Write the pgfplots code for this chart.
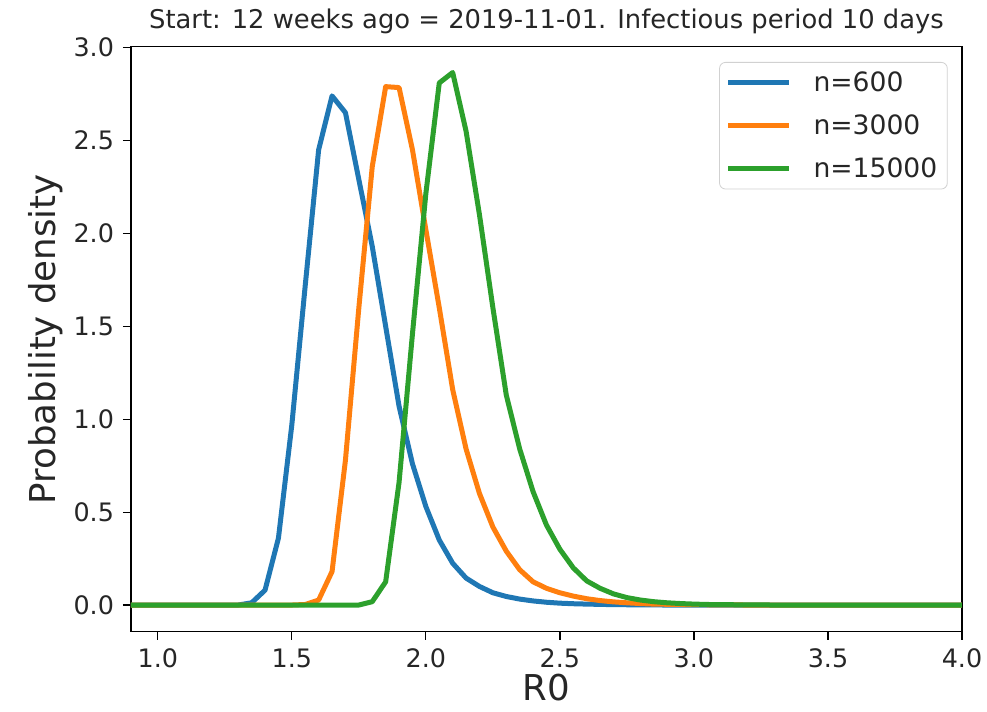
\documentclass[border=0pt]{standalone}
\usepackage{fontspec}
\setmainfont{DejaVu Sans}
\usepackage{pgfplots}
\usepackage{pgfplotstable}
\pgfplotsset{compat=1.18}
\definecolor{tabblue}{HTML}{1F77B4}
\definecolor{taborange}{HTML}{FF7F0E}
\definecolor{tabgreen}{HTML}{2CA02C}
\definecolor{txt}{HTML}{262626}

\pgfplotstableread{
x y
0.90 0
1.30 0
1.35 0.012
1.40 0.08
1.45 0.36
1.50 0.97
1.55 1.72
1.60 2.45
1.65 2.74
1.70 2.65
1.75 2.29
1.80 1.93
1.85 1.50
1.90 1.07
1.95 0.76
2.00 0.53
2.05 0.35
2.10 0.225
2.15 0.145
2.20 0.10
2.25 0.066
2.30 0.046
2.35 0.032
2.40 0.022
2.45 0.015
2.50 0.010
2.55 0.007
2.60 0.005
2.70 0.002
2.80 0.001
2.90 0
4.00 0
}\blue

\pgfplotstableread{
x y
0.90 0
1.50 0
1.55 0.003
1.60 0.027
1.65 0.18
1.70 0.78
1.75 1.60
1.80 2.36
1.85 2.79
1.90 2.785
1.95 2.45
2.00 2.02
2.05 1.60
2.10 1.16
2.15 0.84
2.20 0.60
2.25 0.42
2.30 0.29
2.35 0.19
2.40 0.125
2.45 0.09
2.50 0.066
2.55 0.048
2.60 0.034
2.65 0.024
2.70 0.017
2.75 0.012
2.80 0.008
2.85 0.005
2.90 0.004
3.00 0.002
3.10 0.001
3.20 0
4.00 0
}\orange

\pgfplotstableread{
x y
0.90 0
1.75 0
1.80 0.018
1.85 0.125
1.90 0.66
1.95 1.46
2.00 2.215
2.05 2.81
2.10 2.866
2.15 2.55
2.20 2.10
2.25 1.60
2.30 1.13
2.35 0.84
2.40 0.61
2.45 0.43
2.50 0.30
2.55 0.20
2.60 0.13
2.65 0.09
2.70 0.06
2.75 0.04
2.80 0.027
2.85 0.018
2.90 0.012
2.95 0.008
3.00 0.005
3.05 0.003
3.10 0.002
3.20 0.001
3.30 0
4.00 0
}\green

\begin{document}
\begin{tikzpicture}
\path[use as bounding box] (-65.5pt,-40.15pt) rectangle (428pt,315.85pt);
\begin{axis}[
  at={(0,0)}, anchor=south west,
  scale only axis, width=415.5pt, height=292.5pt,
  xmin=0.9, xmax=4.0, ymin=-0.1435, ymax=3.005,
  xtick={1,1.5,2,2.5,3,3.5,4},
  ytick={0,0.5,1,1.5,2,2.5,3},
  xticklabels={1.0,1.5,2.0,2.5,3.0,3.5,4.0},
  yticklabels={0.0,0.5,1.0,1.5,2.0,2.5,3.0},
  tick align=outside, xtick pos=bottom, ytick pos=left,
  major tick length=4pt,
  every tick/.style={black, line width=0.6pt},
  axis line style={line width=0.6pt},
  tick label style={font=\fontsize{12.7}{15}\selectfont, text=txt},
  xticklabel style={yshift=-1pt},
  yticklabel style={xshift=-1pt},
  title={Start: 12 weeks ago = 2019-11-01. Infectious period 10 days},
  title style={at={(axis description cs:0.5,1.0114)}, anchor=base, font=\fontsize{12.9}{15}\selectfont, text=txt},
  xlabel={R0},
  xlabel style={at={(axis description cs:0.5,-0.0963)}, anchor=center, font=\fontsize{17.8}{21}\selectfont, text=txt},
  ylabel={Probability density},
  ylabel style={at={(axis description cs:-0.103,0.5)}, anchor=center, font=\fontsize{17.8}{21}\selectfont, text=txt},
  legend cell align=left,
  legend image code/.code={\draw[#1, line width=2.5pt] (0pt,0pt) -- (30.5pt,0pt);},
  legend style={at={(axis description cs:1,1)}, anchor=north east, xshift=-7.15pt, yshift=-7.65pt,
    draw=black!18, rounded corners=3pt, fill=white, fill opacity=0.8, text opacity=1,
    font=\fontsize{13.3}{16}\selectfont, text=txt, inner xsep=3pt, inner ysep=2.5pt, row sep=6.1pt,
    column sep=9pt, nodes={inner sep=2pt}},
  every axis plot/.append style={line width=2.5pt, line join=round},
]
\addplot[tabblue] table {\blue};
\addlegendentry{n=600}
\addplot[taborange] table {\orange};
\addlegendentry{n=3000}
\addplot[tabgreen] table {\green};
\addlegendentry{n=15000}
\end{axis}
\end{tikzpicture}
\end{document}
